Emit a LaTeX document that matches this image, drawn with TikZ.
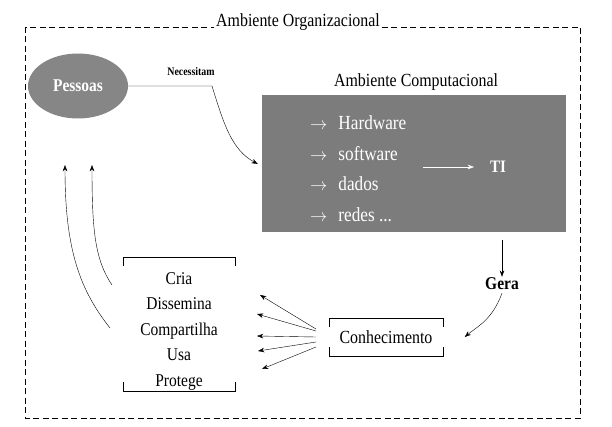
\documentclass[tikz,border=0pt]{standalone}
\usepackage{fontspec}
\setmainfont{Liberation Serif}[FakeStretch=0.86]
\usetikzlibrary{arrows.meta,shapes.geometric}

\begin{document}
\begin{tikzpicture}[
  x=1pt, y=-1pt,
  tnode/.style={inner sep=1pt,font=\fontsize{18.5}{20}\selectfont},
  bnode/.style={inner sep=1pt,font=\fontsize{18}{20}\selectfont\bfseries},
  wnode/.style={inner sep=0pt,anchor=base west,text=white,font=\fontsize{20}{22}\selectfont},
  arr/.style={-{Stealth[length=2.2mm,width=1.6mm]}}
]
  \useasboundingbox (0,0) rectangle (612,427);

  % frame
  \draw[dashed,dash pattern=on 6pt off 3.5pt] (25,27) rectangle (580,418);
  \node[tnode,fill=white,anchor=base,inner xsep=2pt] (org) at (298,27) {Ambiente Organizacional};

  % people
  \node[ellipse,fill=gray!95,minimum width=100pt,minimum height=65pt,inner sep=0pt,
        text=white,font=\fontsize{18}{20}\selectfont\bfseries] (pessoas) at (78,86) {Pessoas};
  \node[inner sep=0pt,font=\fontsize{11.5}{13}\selectfont\bfseries] (need) at (191,72) {Necessitam};

  % computing environment
  \node[tnode] (cname) at (416,82) {Ambiente Computacional};
  \node[fill=gray!97!black,minimum width=304pt,minimum height=137pt,inner sep=0pt] (comp) at (414,164) {};
  \node[wnode] (hw) at (310,130) {{\fontsize{16}{16}\selectfont$\rightarrow$}\hspace{11pt}Hardware};
  \node[wnode] (sw) at (310,161) {{\fontsize{16}{16}\selectfont$\rightarrow$}\hspace{11pt}software};
  \node[wnode] (dd) at (310,191) {{\fontsize{16}{16}\selectfont$\rightarrow$}\hspace{11pt}dados};
  \node[wnode] (rd) at (310,222) {{\fontsize{16}{16}\selectfont$\rightarrow$}\hspace{11pt}redes ...};
  \coordinate (tistart) at (423,167);
  \node[inner sep=0pt,text=white,font=\fontsize{17.5}{18}\selectfont\bfseries] (ti) at (498,167) {TI};

  % knowledge
  \coordinate (gtop) at (502,240);
  \node[bnode] (gera) at (502,284) {Gera};
  \node[tnode,minimum width=113pt,minimum height=38pt,inner sep=0pt] (know) at (386,337) {Conhecimento};

  % actions
  \node[minimum width=112pt,minimum height=134pt,inner sep=0pt] (acts) at (179,324) {};
  \node[tnode,align=center,font=\fontsize{18}{25.5}\selectfont] (verbs) at (179,331) {Cria\\Dissemina\\Compartilha\\Usa\\Protege};

  % brackets
  \draw ([yshift=-9pt]acts.north west) -- (acts.north west) -- (acts.north east) -- ([yshift=-9pt]acts.north east);
  \draw ([yshift=9pt]acts.south west) -- (acts.south west) -- (acts.south east) -- ([yshift=9pt]acts.south east);
  \draw ([yshift=-9pt]know.north west) -- (know.north west) -- (know.north east) -- ([yshift=-9pt]know.north east);
  \draw ([yshift=9pt]know.south west) -- (know.south west) -- (know.south east) -- ([yshift=9pt]know.south east);

  % edges
  \coordinate (bend) at (212,86);
  \draw[arr] (pessoas.east) -- (bend) .. controls (224,125) and (232,150) .. ([xshift=-4pt]comp.west);
  \draw[arr,white] (tistart) -- ([xshift=-24pt]ti.center);
  \draw[arr] (gtop) -- (gera.north);
  \draw[arr] ([yshift=-2pt]gera.south) .. controls (492,320) and (478,326) .. ([xshift=22pt]know.east);

  % knowledge to actions
  \coordinate (k1) at (316,329);
  \coordinate (k2) at (316,331);
  \coordinate (k3) at (316,337);
  \coordinate (k4) at (316,342);
  \coordinate (k5) at (316,347);
  \draw[arr] (k1) -- (260,295);
  \draw[arr] (k2) -- (257,314);
  \draw[arr] (k3) -- (257,336);
  \draw[arr] (k4) -- (258,351);
  \draw[arr] (k5) -- (262,369);

  % back to people
  \coordinate (a1) at (110,328);
  \coordinate (a2) at (112,285);
  \coordinate (p1) at (65,165);
  \coordinate (p2) at (92,165);
  \draw[arr] (a1) .. controls (80,290) and (65,250) .. (p1);
  \draw[arr] (a2) .. controls (95,260) and (92,230) .. (p2);

\end{tikzpicture}
\end{document}
